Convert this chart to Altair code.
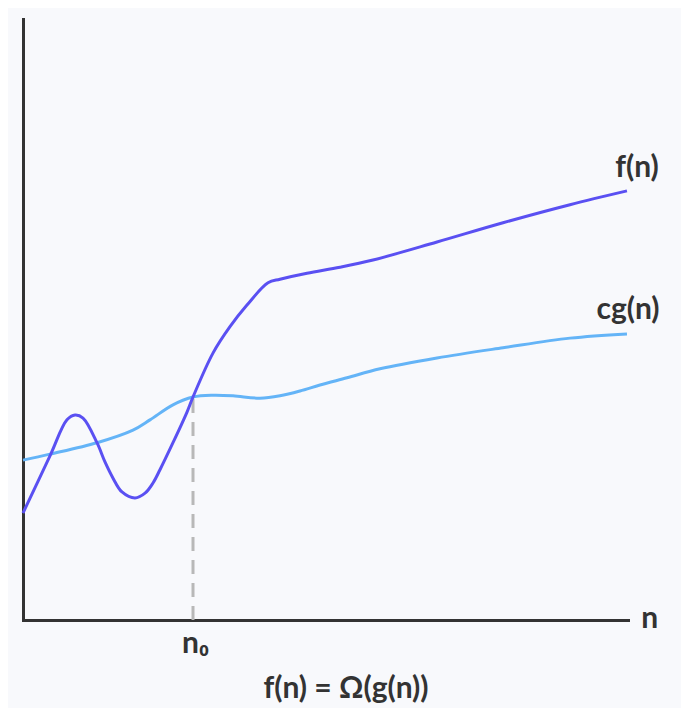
import altair as alt
import pandas as pd

# f(n) curve (x in n-units 0..100, y in value units 0..100)
f_x = [0, 4.46, 7.27, 8.60, 9.92, 12.23, 13.55, 14.88, 16.36, 18.51, 20.17, 21.49, 22.64,
       24.79, 27.11, 28.10, 31.40, 34.21, 37.02, 40.50, 42.48, 46.94, 52.40, 57.85,
       68.43, 79.34, 90.41, 99.83]
f_y = [17.8, 27.3, 33.3, 34.1, 33.6, 29.5, 26.3, 23.6, 21.3, 20.3, 21.1, 22.8, 25.0,
       29.5, 34.6, 37.1, 44.4, 48.8, 52.4, 56.1, 56.7, 57.7, 58.7, 59.9,
       62.9, 66.1, 69.1, 71.4]

# c*g(n) curve
g_x = [0, 4.46, 12.23, 18.18, 20.99, 24.79, 28.10, 31.40, 34.71, 39.17, 42.48, 45.79,
       49.09, 53.55, 59.01, 68.43, 79.34, 90.41, 99.83]
g_y = [26.6, 27.6, 29.5, 31.6, 33.3, 35.8, 37.1, 37.4, 37.3, 36.9, 37.3, 38.1,
       39.1, 40.3, 41.8, 43.6, 45.3, 46.9, 47.6]

n0_x = 28.1
n0_y = 37.1

label_text = ["f(n)", "cg(n)", "n", "n₀", "f(n) = Ω(g(n))"]
label_x = [101.5, 100.0, 103.6, 28.5, 53.4]
label_y = [73.7, 50.1, -1.3, -5.5, -13.0]

F_COLOR = "#5a50f2"
G_COLOR = "#64b4f7"
TEXT_COLOR = "#333333"
FONT = "Lato"

xs = alt.Scale(domain=[0, 100], nice=False, zero=False)
ys = alt.Scale(domain=[0, 100], nice=False, zero=False)
ax = alt.Axis(domain=True, ticks=False, labels=False, grid=False, title=None,
              domainColor="#333333", domainWidth=3)

f_df = pd.DataFrame({"x": f_x, "y": f_y})
g_df = pd.DataFrame({"x": g_x, "y": g_y})
n0_df = pd.DataFrame({"x": [n0_x], "y": [0], "y2": [n0_y]})
lab_df = pd.DataFrame({"t": label_text, "x": label_x, "y": label_y})

dash = alt.Chart(n0_df).mark_rule(color="#b8b8b8", strokeWidth=3, strokeDash=[14, 9]).encode(
    x=alt.X("x:Q", scale=xs, axis=ax),
    y=alt.Y("y:Q", scale=ys, axis=ax),
    y2="y2:Q",
)

g_line = alt.Chart(g_df).mark_line(color=G_COLOR, strokeWidth=3, interpolate="catmull-rom").encode(
    x=alt.X("x:Q", scale=xs, axis=ax),
    y=alt.Y("y:Q", scale=ys, axis=ax),
)

f_line = alt.Chart(f_df).mark_line(color=F_COLOR, strokeWidth=3, interpolate="catmull-rom").encode(
    x=alt.X("x:Q", scale=xs, axis=ax),
    y=alt.Y("y:Q", scale=ys, axis=ax),
)

labels = alt.Chart(lab_df).mark_text(
    font=FONT, fontSize=30, fontWeight="bold", color=TEXT_COLOR,
    align="center", baseline="alphabetic"
).encode(
    x=alt.X("x:Q", scale=xs, axis=ax),
    y=alt.Y("y:Q", scale=ys, axis=ax),
    text="t:N",
)

chart = alt.layer(dash, g_line, f_line, labels).properties(
    width=605, height=601,
    padding={"left": 15, "top": 11, "right": 53, "bottom": 88},
    autosize=alt.AutoSizeParams(type="none"),
    background="#f8f9fc",
).configure_view(stroke=None).configure_axis(domainCap="square")

chart.save("out.html", embed_options={"renderer": "svg", "actions": False})
